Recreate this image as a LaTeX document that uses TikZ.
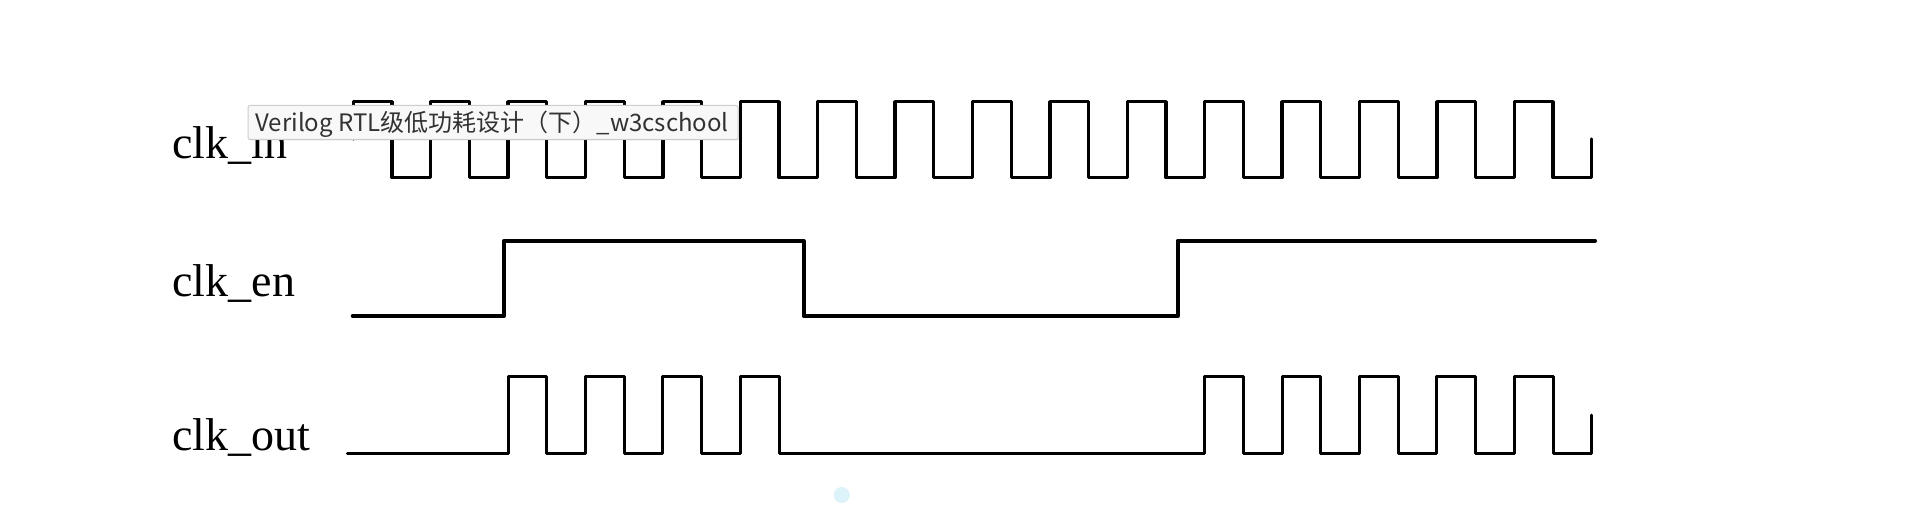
\documentclass[tikz,border=0pt]{standalone}
\usepackage{fontspec}
\setmainfont{Liberation Serif}
\newfontfamily\cjk{Noto Sans CJK SC}
\usetikzlibrary{shadows}
\definecolor{tipfill}{RGB}{248,248,248}
\definecolor{tipdraw}{RGB}{205,205,205}
\definecolor{tiptext}{RGB}{50,50,50}
\definecolor{dotblue}{RGB}{221,243,250}
\tikzset{
  wave/.style={black, line join=round, line cap=round},
  siglabel/.style={anchor=base west, inner sep=0pt, font=\fontsize{23}{23}\selectfont},
  tipbox/.style={draw=tipdraw, fill=tipfill, line width=0.5pt, rounded corners=1pt,
    drop shadow={shadow xshift=0.6pt, shadow yshift=-0.6pt, opacity=0.15}},
  tiptextstyle/.style={anchor=base west, inner sep=0pt, text=tiptext, font=\cjk\fontsize{12}{12}\selectfont}
}
\begin{document}
\begin{tikzpicture}[x=0.5pt, y=-0.5pt]
\path[use as bounding box, fill=white] (0,0) rectangle (1912,519);

% labels
\node[siglabel] (lin)  at (172,158) {clk\_in};
\node[siglabel] (len)  at (172,296) {clk\_en};
\node[siglabel] (lout) at (172,450) {clk\_out};

% clk_in
\draw[wave, line width=1.65pt] (353.3,139) -- (353.3,101.7)
  \foreach \k in {1,...,15}{ -- ++(38.7,0) -- ++(0,75.8) -- ++(38.7,0) -- ++(0,-75.8) }
  -- ++(38.7,0) -- ++(0,75.8) -- ++(38.7,0) -- ++(0,-38.5);

% clk_en
\draw[wave, line width=2pt] (352.7,316) -- (504,316) -- (504,240.7) -- (803.5,240.7)
  -- (803.5,316) -- (1177.7,316) -- (1177.7,240.7) -- (1595,240.7);

% clk_out
\draw[wave, line width=1.5pt] (347.3,453.3) -- (508.1,453.3)
  \foreach \k in {1,...,4}{ -- ++(0,-76.8) -- ++(38.7,0) -- ++(0,76.8) -- ++(38.7,0) }
  -- (1204.7,453.3)
  \foreach \k in {1,...,5}{ -- ++(0,-76.8) -- ++(38.7,0) -- ++(0,76.8) -- ++(38.7,0) }
  -- ++(0,-38.3);

% tooltip
\node[tipbox, anchor=north west, minimum width=245pt, minimum height=17pt, inner sep=0pt] (tip) at (247.5,105) {};
\node[tiptextstyle] (tiptxt) at (255,131.5) {Verilog RTL级低功耗设计（下）\_w3cschool};

% faint dot
\fill[dotblue] (841.7,495) circle (4pt);
\end{tikzpicture}
\end{document}
